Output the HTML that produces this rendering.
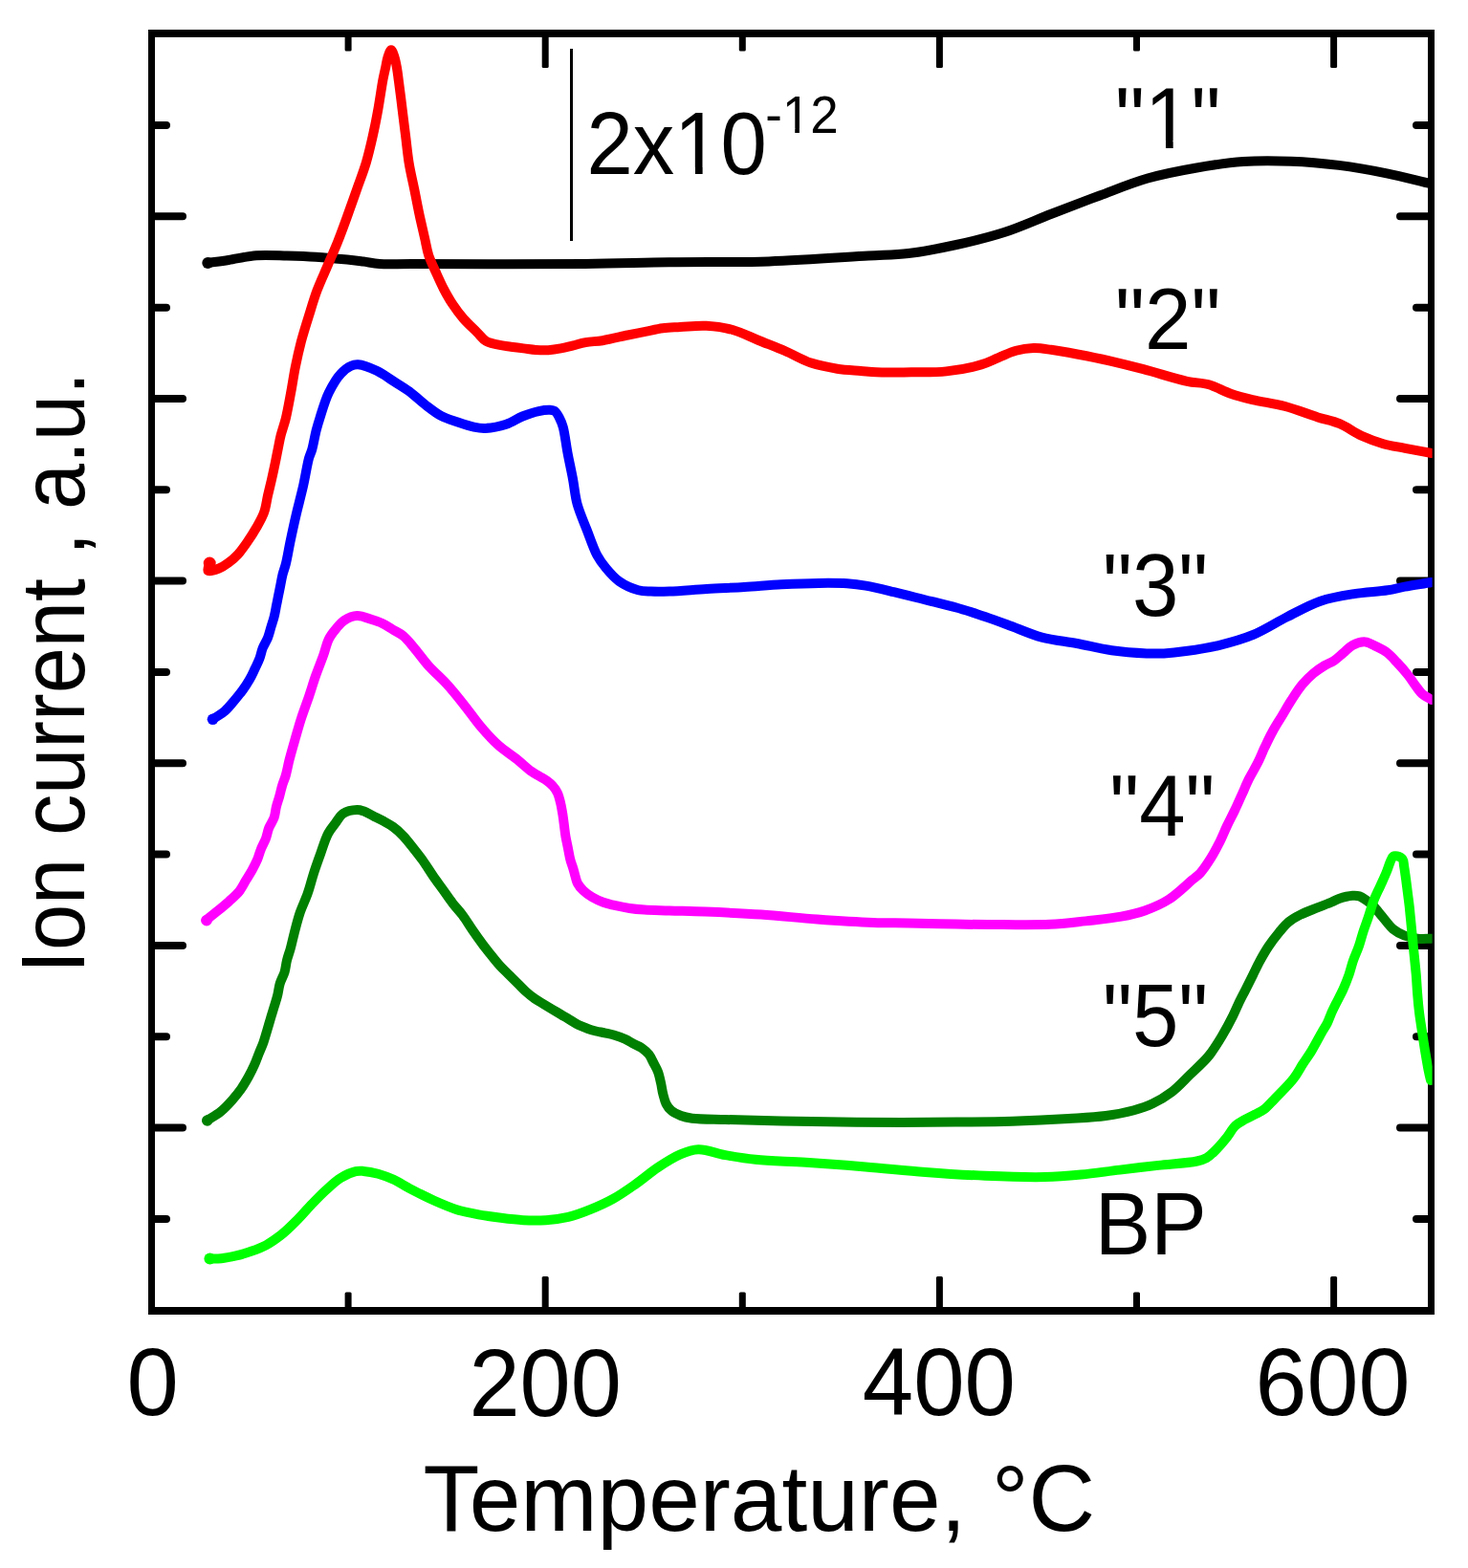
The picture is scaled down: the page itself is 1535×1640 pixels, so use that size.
<!DOCTYPE html>
<html><head><meta charset="utf-8"><title>Ion current vs Temperature</title>
<style>html,body{margin:0;padding:0;background:#fff;}svg{display:block;}text{font-family:"Liberation Sans",Arial,sans-serif;fill:#000;}</style></head>
<body><svg width="1535" height="1640" viewBox="0 0 1535 1640">
<rect x="0" y="0" width="1535" height="1640" fill="#fff"/>
<defs><clipPath id="pc"><rect x="150" y="30" width="1347.6" height="1350"/></clipPath></defs>
<g fill="#000">
<rect x="155" y="31" width="7" height="1344"/>
<rect x="155" y="31" width="1345" height="8"/>
<rect x="1493" y="31" width="7" height="1344"/>
<rect x="155" y="1367" width="1345" height="8"/>
</g>
<path d="M162 131.0H174.0 M1493 131.0H1481.0 M162 226.3H191.0 M1493 226.3H1464.0 M162 321.7H174.0 M1493 321.7H1481.0 M162 417.0H191.0 M1493 417.0H1464.0 M162 512.3H174.0 M1493 512.3H1481.0 M162 607.6H191.0 M1493 607.6H1464.0 M162 703.0H174.0 M1493 703.0H1481.0 M162 798.3H191.0 M1493 798.3H1464.0 M162 893.6H174.0 M1493 893.6H1481.0 M162 989.0H191.0 M1493 989.0H1464.0 M162 1084.3H174.0 M1493 1084.3H1481.0 M162 1179.6H191.0 M1493 1179.6H1464.0 M162 1275.0H174.0 M1493 1275.0H1481.0" stroke="#000" stroke-width="8" stroke-linecap="round" fill="none"/>
<g fill="#000"><rect x="360.6" y="1351.5" width="7" height="18" rx="1.5"/><rect x="360.6" y="37" width="7" height="16.5" rx="1.5"/><rect x="566.7" y="1335" width="7" height="34" rx="1.5"/><rect x="566.7" y="37" width="7" height="34" rx="1.5"/><rect x="772.8" y="1351.5" width="7" height="18" rx="1.5"/><rect x="772.8" y="37" width="7" height="16.5" rx="1.5"/><rect x="978.9" y="1335" width="7" height="34" rx="1.5"/><rect x="978.9" y="37" width="7" height="34" rx="1.5"/><rect x="1185.0" y="1351.5" width="7" height="18" rx="1.5"/><rect x="1185.0" y="37" width="7" height="16.5" rx="1.5"/><rect x="1391.1" y="1335" width="7" height="34" rx="1.5"/><rect x="1391.1" y="37" width="7" height="34" rx="1.5"/></g>
<rect x="596" y="51" width="3" height="201" fill="#000"/>
<g fill="none" stroke-width="10.0" stroke-linecap="round" stroke-linejoin="round" clip-path="url(#pc)">
<path d="M217.0 275.0 C224.3 274.0 231.2 273.2 239.0 272.0 C248.0 270.6 258.1 268.0 268.0 267.2 C278.4 266.4 289.5 267.2 300.0 267.5 C310.2 267.8 319.8 268.1 330.0 268.7 C340.7 269.4 353.8 270.6 363.0 271.5 C369.6 272.2 374.3 272.8 380.0 273.5 C385.7 274.3 390.4 275.5 397.0 276.0 C406.2 276.7 414.6 276.0 430.0 276.0 C466.2 276.0 562.2 276.5 612.0 276.0 C646.6 275.7 669.4 274.7 700.0 274.3 C733.2 273.8 769.3 274.5 804.0 273.4 C838.7 272.3 881.1 269.1 908.0 267.5 C925.1 266.5 935.4 266.7 950.0 265.0 C966.0 263.1 983.4 259.6 1000.0 256.0 C1016.7 252.3 1033.5 248.3 1050.0 243.0 C1066.8 237.6 1083.3 229.9 1100.0 223.5 C1116.7 217.1 1133.3 210.7 1150.0 204.5 C1166.6 198.3 1183.2 191.3 1200.0 186.5 C1216.5 181.8 1233.3 178.6 1250.0 175.7 C1266.6 172.8 1283.3 170.2 1300.0 169.0 C1316.6 167.8 1333.3 168.1 1350.0 168.7 C1366.7 169.3 1383.4 170.8 1400.0 172.9 C1416.7 175.0 1433.6 178.0 1450.0 181.3 C1466.0 184.5 1481.3 188.8 1497.0 192.5" stroke="#000000"/>
<path d="M219.2 589.0 C218.6 591.7 216.4 595.9 217.5 597.0 C218.9 598.4 225.4 595.9 229.0 594.5 C232.6 593.1 235.8 590.9 239.0 588.5 C242.4 586.0 245.7 583.2 248.8 579.8 C252.2 576.1 255.4 571.5 258.5 567.0 C261.9 562.1 265.3 556.8 268.3 551.5 C271.2 546.4 274.2 541.4 276.1 535.9 C278.1 530.3 278.7 524.1 280.0 518.3 C281.3 512.7 282.7 507.3 284.0 501.7 C285.3 495.9 286.6 489.6 287.8 484.0 C288.9 478.9 289.7 474.3 290.7 469.5 C291.7 464.7 292.4 460.0 293.7 455.0 C295.1 449.5 297.2 444.1 298.8 437.7 C300.7 429.8 302.4 419.9 304.1 410.9 C305.8 402.0 307.0 392.9 308.8 384.0 C310.6 375.1 312.6 366.2 314.9 357.3 C317.3 348.3 320.1 339.4 322.9 330.5 C325.7 321.5 328.3 312.5 331.6 303.6 C335.0 294.6 339.3 285.6 343.0 276.8 C346.6 268.4 350.2 260.4 353.5 252.0 C356.9 243.5 359.9 235.1 363.1 226.3 C366.4 217.2 369.7 207.6 373.0 198.3 C376.3 188.9 380.0 179.6 382.8 170.2 C385.6 160.9 387.7 151.6 389.8 142.2 C391.9 132.9 393.7 123.6 395.4 114.1 C397.2 104.3 398.8 92.1 400.3 84.0 C401.3 78.4 402.4 74.3 403.3 70.0 C404.1 66.2 404.5 62.6 405.6 59.5 C406.5 56.8 407.9 52.3 409.0 52.3 C410.1 52.3 411.5 56.8 412.4 59.5 C413.5 62.6 414.1 66.2 414.8 70.0 C415.6 74.3 416.1 78.4 416.8 84.0 C417.9 92.1 419.4 104.2 420.6 114.1 C421.8 123.6 422.9 132.8 424.1 142.2 C425.3 151.5 426.1 160.9 427.6 170.2 C429.1 179.6 431.4 188.9 433.3 198.3 C435.2 207.6 437.0 217.4 438.9 226.3 C440.7 234.5 442.6 242.8 444.3 250.0 C445.7 256.1 446.4 261.4 448.2 267.0 C450.1 272.7 452.8 278.2 455.4 283.9 C458.1 289.9 460.9 296.3 463.9 302.1 C466.8 307.6 469.6 312.7 473.0 317.8 C476.5 323.1 480.4 328.5 484.7 333.4 C489.1 338.4 494.8 343.5 499.0 347.7 C502.4 351.1 504.6 354.6 508.2 356.8 C511.9 359.0 516.8 359.7 521.2 360.7 C525.5 361.7 529.9 362.1 534.2 362.7 C538.6 363.3 542.9 363.8 547.3 364.4 C551.6 364.9 556.0 365.7 560.3 366.0 C564.6 366.3 569.0 366.5 573.3 366.2 C577.7 365.9 582.1 365.2 586.4 364.4 C590.8 363.6 595.1 362.4 599.4 361.4 C603.7 360.3 607.7 358.9 612.4 358.1 C617.8 357.1 623.6 357.2 630.0 356.2 C638.0 354.9 648.5 352.2 656.5 350.5 C663.1 349.1 668.6 348.0 674.7 346.8 C680.8 345.6 686.9 344.0 693.0 343.2 C699.0 342.4 704.5 342.4 711.2 342.0 C719.4 341.6 729.5 340.3 738.6 340.8 C747.8 341.3 757.0 342.5 766.0 345.0 C775.3 347.5 784.2 352.3 793.3 356.0 C802.4 359.7 811.6 363.1 820.7 367.0 C829.9 370.9 838.7 376.5 848.0 379.6 C857.0 382.6 866.5 384.3 875.4 385.7 C883.8 387.0 892.6 387.3 900.0 387.9 C906.0 388.4 909.9 389.0 916.5 389.3 C926.3 389.7 940.8 389.4 953.0 389.3 C965.2 389.2 977.4 389.7 989.5 388.4 C1001.7 387.1 1016.1 384.3 1026.0 381.4 C1033.2 379.3 1038.0 376.5 1044.0 374.1 C1050.1 371.7 1056.2 368.5 1062.4 366.8 C1068.4 365.2 1074.6 364.3 1080.7 364.1 C1086.8 363.9 1092.3 364.9 1099.0 365.8 C1107.2 366.9 1116.8 368.7 1126.4 370.5 C1137.0 372.5 1148.7 374.8 1160.0 377.4 C1171.7 380.1 1183.0 382.9 1195.6 386.2 C1209.9 389.9 1228.5 396.1 1241.2 398.8 C1250.0 400.7 1256.5 400.1 1264.0 402.2 C1271.7 404.4 1279.1 409.1 1286.8 411.8 C1294.3 414.4 1301.2 416.1 1309.6 418.1 C1319.8 420.5 1332.5 422.0 1343.8 425.0 C1355.3 428.1 1367.7 433.2 1378.0 436.4 C1386.3 439.0 1393.4 440.1 1400.8 443.2 C1408.6 446.5 1415.9 452.3 1423.6 455.8 C1431.1 459.2 1438.7 462.0 1446.4 464.2 C1453.9 466.3 1461.2 467.2 1469.2 468.8 C1478.0 470.5 1487.7 472.3 1497.0 474.0" stroke="#ff0000"/>
<path d="M223.0 752.0 C227.0 749.2 231.4 746.9 235.1 743.7 C238.8 740.5 241.8 736.4 245.0 732.7 C248.1 729.1 251.1 725.4 253.8 721.7 C256.4 718.1 258.8 714.5 260.9 710.8 C263.0 707.2 264.6 703.5 266.4 699.8 C268.1 696.1 270.0 692.5 271.4 688.8 C272.8 685.2 273.3 681.4 274.7 677.8 C276.2 674.1 278.6 670.5 280.1 666.8 C281.5 663.2 282.3 659.5 283.4 655.9 C284.5 652.2 285.8 648.6 286.7 644.9 C287.6 641.3 288.2 637.6 288.9 633.9 C289.6 630.2 290.4 626.6 291.1 622.9 C291.8 619.3 292.6 615.6 293.3 612.0 C294.0 608.3 294.6 604.6 295.5 601.0 C296.4 597.3 297.7 594.4 298.8 590.0 C300.4 583.8 301.7 575.1 303.4 567.0 C305.3 557.8 307.5 547.5 309.8 537.8 C312.1 528.0 314.8 518.3 317.0 508.5 C319.2 498.8 321.1 486.3 323.0 479.3 C324.1 475.3 325.2 473.7 326.3 470.0 C327.8 464.6 329.2 455.8 330.7 450.0 C331.9 445.4 332.7 442.6 334.3 437.7 C336.6 430.5 339.8 419.0 343.7 410.9 C347.3 403.5 351.9 395.7 356.4 390.8 C359.8 387.1 363.6 384.2 367.0 382.7 C369.5 381.5 371.4 381.0 374.4 381.2 C379.4 381.5 387.8 384.9 393.9 387.8 C399.9 390.6 405.2 394.7 410.8 398.3 C416.5 401.9 422.3 405.2 427.8 409.3 C433.6 413.6 439.0 419.0 444.7 423.4 C450.2 427.6 455.8 432.1 461.6 435.2 C467.1 438.1 472.9 439.6 478.6 441.5 C484.2 443.4 490.3 445.5 495.5 446.6 C499.8 447.5 502.8 448.1 507.4 447.9 C513.6 447.7 522.7 445.9 529.4 443.7 C535.6 441.7 540.6 437.8 546.3 435.5 C551.9 433.3 558.1 431.2 563.3 430.1 C567.5 429.2 572.0 428.6 575.1 428.8 C577.1 428.9 578.6 429.0 580.1 430.0 C582.1 431.4 583.9 435.0 585.3 437.8 C586.8 440.6 587.7 442.9 588.8 446.8 C590.6 453.3 591.8 464.7 593.5 473.6 C595.2 482.6 597.2 491.5 598.9 500.5 C600.6 509.4 601.2 518.5 603.6 527.3 C606.1 536.3 610.1 545.2 613.6 554.1 C617.1 563.1 620.5 573.7 624.4 580.9 C627.4 586.4 630.2 590.1 633.8 594.4 C637.7 599.1 641.9 604.1 647.2 607.8 C652.9 611.8 661.1 615.5 667.3 617.2 C672.1 618.5 675.8 618.3 680.7 618.5 C686.5 618.8 692.5 618.7 700.0 618.5 C710.7 618.2 726.0 616.7 739.0 616.0 C752.0 615.2 765.1 614.8 778.2 614.0 C791.2 613.2 804.3 612.0 817.3 611.3 C830.3 610.6 844.2 610.0 856.3 609.9 C866.8 609.8 876.9 609.7 885.7 610.3 C892.9 610.8 898.1 611.4 905.2 612.6 C914.0 614.1 924.0 616.6 934.5 619.1 C946.6 622.0 961.8 626.0 973.6 628.9 C983.3 631.3 992.3 633.4 1000.0 635.5 C1006.2 637.2 1009.9 638.4 1016.5 640.5 C1026.3 643.7 1040.9 648.9 1053.0 653.2 C1065.2 657.6 1077.1 663.3 1089.4 666.6 C1101.4 669.8 1113.8 670.7 1126.0 673.0 C1138.2 675.3 1150.2 678.6 1162.4 680.3 C1174.5 682.0 1188.8 683.0 1198.9 683.4 C1206.0 683.7 1210.7 683.7 1217.1 683.4 C1224.3 683.0 1231.6 682.2 1240.0 681.0 C1250.5 679.5 1263.6 677.6 1275.2 674.8 C1287.0 671.9 1298.9 668.7 1310.4 663.9 C1322.3 659.0 1333.7 651.3 1345.5 645.4 C1357.2 639.6 1368.7 632.8 1380.7 628.7 C1392.2 624.8 1404.1 623.0 1415.9 621.1 C1427.6 619.2 1441.4 618.8 1451.1 617.3 C1458.0 616.2 1462.1 614.9 1468.7 613.7 C1477.0 612.2 1487.6 610.6 1497.0 609.0" stroke="#0000ff"/>
<path d="M215.4 962.5 C219.1 959.6 222.6 956.8 226.4 953.7 C230.6 950.3 235.4 946.4 239.5 942.7 C243.4 939.1 247.5 935.6 250.5 931.8 C253.2 928.3 254.9 924.5 257.1 920.8 C259.3 917.1 261.7 913.5 263.7 909.8 C265.7 906.2 267.6 902.5 269.2 898.8 C270.7 895.2 271.5 891.4 273.0 887.8 C274.5 884.1 276.6 880.6 278.0 876.9 C279.3 873.3 279.8 869.5 281.2 865.9 C282.7 862.2 285.4 858.7 286.7 854.9 C287.9 851.3 288.0 847.5 288.9 843.9 C289.8 840.2 291.2 836.6 292.2 832.9 C293.2 829.3 293.9 825.6 295.0 822.0 C296.1 818.3 297.6 815.1 298.8 811.0 C300.2 806.1 301.1 800.4 302.6 794.6 C304.3 787.8 306.6 780.0 308.7 772.7 C310.8 765.4 312.8 758.0 315.2 750.7 C317.6 743.4 320.4 736.1 322.9 728.8 C325.4 721.5 327.5 714.1 330.1 706.8 C332.7 699.5 335.9 691.7 338.3 684.9 C340.4 679.0 341.4 673.2 343.8 668.4 C345.9 664.2 348.7 660.7 351.5 657.4 C354.2 654.2 356.7 650.9 360.2 648.7 C363.9 646.3 368.8 644.2 373.4 644.0 C378.3 643.8 384.1 646.6 388.8 648.1 C392.8 649.3 396.1 650.3 399.7 652.0 C403.4 653.8 407.0 656.3 410.7 658.5 C414.4 660.7 418.2 662.3 421.7 665.1 C425.6 668.3 428.8 672.6 432.7 677.2 C437.5 682.8 442.7 690.4 448.3 696.6 C454.0 702.9 460.6 708.4 466.6 714.9 C472.9 721.7 478.9 729.3 484.9 736.8 C491.1 744.5 496.9 753.2 503.2 760.6 C509.1 767.5 515.2 774.2 521.5 779.8 C527.4 785.0 533.9 788.9 539.7 793.5 C545.3 797.9 551.3 803.7 555.8 806.9 C558.8 809.1 561.1 810.1 563.8 811.7 C566.4 813.3 569.3 814.7 571.7 816.5 C574.0 818.2 576.2 819.9 578.0 822.0 C579.9 824.1 581.5 826.4 582.8 829.1 C584.3 832.1 585.1 835.8 586.0 839.4 C587.0 843.2 587.6 847.3 588.3 851.3 C588.9 855.3 589.4 859.2 589.9 863.2 C590.4 867.2 590.8 871.1 591.5 875.1 C592.2 879.1 593.1 883.0 593.9 887.0 C594.7 891.0 595.3 895.1 596.3 898.9 C597.2 902.4 598.6 905.9 599.5 909.0 C600.3 911.7 600.8 914.0 601.5 916.5 C602.3 919.0 602.7 921.6 604.0 924.0 C605.4 926.6 607.4 929.0 609.7 931.3 C612.3 933.8 615.7 936.3 619.1 938.3 C622.7 940.4 626.8 942.4 630.8 943.8 C634.6 945.2 638.3 945.9 642.5 946.9 C647.3 948.0 653.0 949.2 658.2 950.0 C663.4 950.8 667.9 951.2 673.8 951.6 C681.4 952.1 690.5 952.1 700.0 952.4 C711.3 952.8 723.5 953.0 737.3 953.6 C754.6 954.3 776.4 955.2 795.9 956.5 C815.4 957.8 835.0 960.2 854.5 961.6 C874.0 963.0 895.9 964.4 913.1 965.0 C926.7 965.5 936.4 965.2 949.5 965.4 C964.7 965.7 982.5 966.3 999.0 966.6 C1015.5 966.9 1032.1 967.1 1048.6 967.1 C1065.1 967.1 1082.7 967.5 1098.0 966.8 C1111.3 966.2 1122.8 964.7 1135.2 963.4 C1147.6 962.0 1161.2 960.8 1172.3 958.7 C1181.4 957.0 1188.9 955.4 1197.0 952.5 C1205.4 949.5 1213.9 946.0 1221.9 940.9 C1230.5 935.4 1240.6 925.4 1246.6 920.3 C1250.1 917.4 1252.1 916.3 1254.9 913.3 C1258.7 909.2 1263.0 902.5 1266.5 896.9 C1269.9 891.5 1272.7 885.9 1275.5 880.4 C1278.2 875.0 1280.3 869.5 1282.9 864.0 C1285.5 858.5 1288.5 853.0 1291.1 847.5 C1293.7 842.0 1296.1 836.5 1298.6 831.0 C1301.1 825.5 1303.3 820.0 1306.0 814.6 C1308.8 809.1 1312.2 803.6 1315.0 798.1 C1317.7 792.7 1319.8 787.2 1322.4 781.7 C1325.0 776.2 1327.6 770.6 1330.6 765.2 C1333.6 759.6 1337.2 754.2 1340.5 748.7 C1343.8 743.2 1346.9 737.7 1350.4 732.3 C1354.0 726.7 1357.8 720.6 1361.9 715.8 C1365.6 711.4 1369.4 707.7 1373.4 704.3 C1377.1 701.2 1381.2 698.4 1385.0 696.1 C1388.3 694.1 1391.6 693.2 1394.8 691.1 C1398.2 688.9 1401.4 685.6 1404.7 682.9 C1408.0 680.2 1410.8 676.6 1414.6 674.7 C1418.5 672.7 1423.5 671.1 1427.7 671.4 C1431.7 671.7 1435.5 674.4 1439.3 676.3 C1443.2 678.2 1447.3 680.2 1450.8 682.9 C1454.4 685.7 1457.3 689.2 1460.7 692.8 C1464.5 696.8 1468.8 701.7 1472.2 706.0 C1475.3 709.9 1477.8 714.0 1480.4 717.5 C1482.7 720.5 1484.3 723.3 1487.0 725.7 C1489.8 728.2 1493.7 729.9 1497.0 732.0" stroke="#ff00ff"/>
<path d="M216.5 1172.0 C221.2 1169.0 226.2 1166.4 230.5 1162.9 C234.9 1159.3 239.0 1154.9 242.7 1150.7 C246.2 1146.7 249.5 1142.7 252.4 1138.5 C255.2 1134.5 257.5 1130.4 259.8 1126.3 C262.0 1122.3 264.1 1118.2 265.9 1114.1 C267.7 1110.1 269.1 1106.0 270.7 1102.0 C272.3 1097.9 274.2 1093.9 275.6 1089.8 C277.0 1085.8 278.1 1081.7 279.3 1077.6 C280.5 1073.5 281.7 1069.5 282.9 1065.4 C284.1 1061.3 285.4 1057.3 286.6 1053.2 C287.8 1049.1 289.2 1045.1 290.2 1041.0 C291.2 1037.0 291.5 1032.8 292.7 1028.8 C293.9 1024.7 296.4 1020.7 297.6 1016.6 C298.8 1012.6 299.0 1008.4 300.0 1004.4 C301.0 1000.3 302.5 996.6 303.7 992.2 C305.1 987.2 306.2 981.7 307.7 975.9 C309.4 969.4 311.2 962.0 313.5 955.1 C315.9 948.1 319.4 941.2 321.8 934.2 C324.2 927.3 325.8 920.3 328.0 913.4 C330.3 906.4 332.8 899.4 335.3 892.5 C337.8 885.5 340.2 877.3 343.2 871.7 C345.4 867.5 347.9 864.7 350.5 861.3 C353.1 857.8 355.2 853.2 358.8 850.8 C362.7 848.3 369.5 847.1 373.4 847.0 C376.0 846.9 377.6 847.5 380.0 848.3 C383.1 849.4 386.9 851.8 390.4 853.5 C393.8 855.2 397.3 856.8 400.7 858.7 C404.2 860.6 407.7 862.4 411.1 864.9 C414.7 867.5 418.2 870.7 421.5 874.2 C425.1 877.9 428.4 882.3 431.8 886.6 C435.3 891.0 438.8 895.4 442.2 900.1 C445.7 905.0 449.0 910.5 452.5 915.6 C455.9 920.6 459.4 925.3 462.9 930.2 C466.4 935.0 469.8 940.1 473.3 944.7 C476.7 949.1 480.3 952.6 483.6 957.1 C487.2 961.9 490.5 967.5 494.0 972.6 C497.4 977.6 501.0 982.6 504.4 987.2 C507.5 991.4 510.6 995.2 513.7 999.1 C516.7 1002.9 519.7 1006.7 522.8 1010.1 C525.8 1013.4 528.9 1016.2 531.9 1019.2 C534.9 1022.2 538.0 1025.3 541.0 1028.3 C544.1 1031.3 547.1 1034.6 550.2 1037.4 C553.2 1040.1 556.2 1042.5 559.3 1044.7 C562.3 1046.8 565.4 1048.4 568.4 1050.2 C571.4 1052.0 574.5 1053.9 577.5 1055.7 C580.5 1057.5 583.6 1059.3 586.6 1061.1 C589.7 1062.9 592.7 1064.8 595.8 1066.6 C598.8 1068.4 601.8 1070.6 604.9 1072.1 C607.9 1073.6 610.9 1074.6 614.0 1075.7 C617.0 1076.8 620.0 1077.7 623.1 1078.5 C626.1 1079.3 629.1 1079.6 632.2 1080.3 C635.3 1081.0 638.4 1081.5 641.7 1082.5 C645.5 1083.6 649.9 1085.1 653.5 1086.8 C656.8 1088.3 659.8 1090.3 662.8 1091.9 C665.5 1093.3 668.2 1094.1 670.7 1095.8 C673.4 1097.7 676.4 1100.1 678.5 1102.8 C680.5 1105.4 681.7 1108.5 683.2 1111.4 C684.8 1114.4 686.6 1117.4 687.9 1120.8 C689.3 1124.4 690.1 1128.6 691.0 1132.5 C691.9 1136.4 692.3 1140.5 693.3 1144.3 C694.2 1147.8 695.0 1151.4 696.5 1154.4 C697.9 1157.1 699.5 1159.5 701.9 1161.5 C704.6 1163.8 708.5 1165.6 712.1 1167.0 C715.8 1168.4 718.8 1169.0 723.8 1169.7 C732.3 1170.8 745.5 1170.6 758.6 1171.0 C775.6 1171.5 796.3 1172.2 817.3 1172.6 C841.5 1173.1 867.5 1173.6 895.4 1173.8 C927.7 1174.0 970.1 1173.9 1000.0 1173.6 C1022.3 1173.4 1039.1 1173.3 1058.6 1172.7 C1078.2 1172.1 1099.7 1171.1 1117.3 1170.0 C1131.6 1169.1 1144.3 1168.6 1156.3 1167.0 C1166.8 1165.6 1177.0 1163.6 1185.7 1161.2 C1192.9 1159.2 1198.8 1157.3 1205.2 1154.3 C1211.9 1151.2 1218.4 1147.4 1224.7 1142.6 C1231.5 1137.4 1237.8 1130.3 1244.3 1124.0 C1250.9 1117.6 1258.2 1111.4 1263.8 1104.5 C1269.1 1098.0 1273.3 1091.0 1277.5 1084.0 C1281.7 1077.0 1286.1 1068.8 1289.2 1062.5 C1291.6 1057.8 1292.9 1054.2 1295.0 1049.8 C1297.3 1045.0 1300.0 1039.9 1302.5 1034.9 C1305.0 1029.9 1307.5 1024.9 1310.0 1019.9 C1312.5 1014.9 1314.8 1009.9 1317.5 1004.9 C1320.3 999.8 1323.1 994.8 1326.4 989.9 C1329.8 984.8 1334.0 979.4 1337.7 974.9 C1341.0 971.0 1343.8 967.4 1347.4 964.4 C1351.0 961.4 1354.9 959.2 1359.4 956.9 C1364.7 954.2 1371.7 951.7 1377.4 949.4 C1382.6 947.3 1388.3 945.3 1392.4 943.5 C1395.4 942.2 1397.0 941.0 1400.0 940.0 C1404.0 938.7 1410.3 937.1 1414.3 936.8 C1417.1 936.6 1419.2 936.7 1421.5 937.4 C1424.0 938.2 1426.4 940.1 1428.7 941.7 C1431.1 943.4 1433.4 945.1 1435.8 947.4 C1438.8 950.3 1441.6 954.2 1444.8 958.0 C1448.5 962.3 1452.5 968.3 1456.8 971.9 C1460.6 975.0 1464.6 977.1 1468.8 978.7 C1473.1 980.3 1477.7 981.2 1482.3 981.7 C1487.1 982.2 1492.1 981.7 1497.0 981.7" stroke="#008000"/>
<path d="M219.5 1316.5 C223.4 1316.4 227.1 1316.6 231.3 1316.2 C236.2 1315.7 241.7 1314.6 246.9 1313.4 C252.1 1312.2 257.3 1310.6 262.5 1308.8 C267.8 1306.9 273.1 1305.0 278.2 1302.3 C283.6 1299.4 288.7 1295.8 293.8 1291.8 C299.2 1287.6 304.3 1282.5 309.4 1277.4 C314.7 1272.1 319.8 1266.0 325.1 1260.5 C330.3 1255.1 335.4 1249.7 340.7 1244.9 C345.8 1240.3 350.8 1235.3 356.3 1232.0 C361.3 1228.9 367.6 1226.2 372.0 1225.2 C375.0 1224.5 376.8 1224.7 379.8 1224.9 C384.1 1225.2 390.3 1226.3 395.4 1227.7 C400.7 1229.2 406.0 1231.2 411.1 1233.6 C416.4 1236.0 421.7 1239.5 426.7 1242.2 C431.3 1244.6 435.5 1246.8 440.0 1249.0 C444.5 1251.2 448.3 1253.2 453.5 1255.5 C460.2 1258.5 469.0 1262.4 476.9 1264.9 C484.6 1267.3 492.5 1268.8 500.4 1270.3 C508.2 1271.8 516.0 1272.8 523.8 1273.8 C531.6 1274.8 539.5 1275.8 547.3 1276.2 C555.1 1276.6 562.9 1276.7 570.7 1276.2 C578.5 1275.7 586.5 1274.7 594.2 1272.9 C602.1 1271.0 609.9 1268.0 617.6 1264.9 C625.5 1261.7 633.4 1258.2 641.1 1253.9 C649.1 1249.5 656.8 1244.0 664.5 1238.6 C672.4 1233.1 680.0 1226.3 688.0 1221.0 C695.7 1215.9 703.8 1210.6 711.4 1207.4 C717.8 1204.7 723.3 1202.5 730.2 1202.3 C738.6 1202.0 748.6 1206.4 758.3 1208.1 C768.5 1209.9 778.1 1211.6 790.0 1212.8 C805.3 1214.4 824.2 1214.6 842.5 1215.8 C862.5 1217.1 884.2 1218.7 905.1 1220.4 C925.9 1222.1 946.7 1224.3 967.6 1225.9 C988.4 1227.5 1009.3 1228.9 1030.2 1229.8 C1051.0 1230.7 1074.5 1231.5 1092.7 1231.1 C1106.9 1230.8 1117.6 1229.8 1130.4 1228.6 C1143.7 1227.3 1157.3 1225.2 1170.8 1223.6 C1184.3 1222.0 1197.7 1220.4 1211.2 1218.9 C1224.7 1217.4 1242.7 1216.5 1251.6 1214.5 C1256.1 1213.5 1258.4 1212.9 1261.6 1211.1 C1265.2 1209.1 1268.4 1205.6 1271.7 1202.4 C1275.2 1198.9 1278.5 1195.0 1281.8 1190.9 C1285.3 1186.6 1288.3 1180.7 1292.0 1177.2 C1295.1 1174.3 1298.6 1172.7 1302.0 1170.7 C1305.3 1168.8 1308.8 1167.4 1312.1 1165.6 C1315.5 1163.8 1319.0 1162.4 1322.2 1160.0 C1325.8 1157.3 1328.4 1153.9 1332.3 1149.9 C1337.9 1144.1 1347.3 1135.1 1352.5 1128.3 C1356.6 1123.0 1358.8 1118.3 1362.0 1113.3 C1365.2 1108.4 1368.5 1103.9 1371.7 1098.6 C1375.3 1092.6 1379.5 1084.4 1382.5 1079.1 C1384.6 1075.5 1386.3 1073.2 1387.9 1070.0 C1389.6 1066.7 1390.7 1062.9 1392.2 1059.5 C1393.7 1056.2 1395.1 1053.4 1396.9 1049.8 C1399.1 1045.4 1402.1 1039.9 1404.4 1034.9 C1406.6 1030.0 1408.6 1024.9 1410.4 1019.9 C1412.1 1014.9 1413.2 1009.9 1414.9 1004.9 C1416.6 999.9 1419.1 994.9 1420.8 989.9 C1422.5 984.9 1423.7 979.9 1425.3 974.9 C1426.9 969.9 1428.8 965.2 1430.6 959.9 C1432.6 954.1 1434.3 947.4 1436.5 941.7 C1438.5 936.6 1440.8 932.1 1443.0 927.3 C1445.1 922.5 1447.6 917.5 1449.4 913.0 C1451.0 909.2 1452.1 905.3 1453.4 902.2 C1454.5 899.8 1455.1 896.8 1456.6 895.8 C1457.8 895.0 1459.4 895.1 1460.9 895.4 C1462.7 895.8 1465.4 897.0 1466.6 898.7 C1467.9 900.4 1467.6 903.0 1468.1 905.8 C1468.8 909.8 1469.5 915.4 1470.2 920.2 C1470.8 925.0 1471.4 929.7 1472.0 934.5 C1472.6 939.3 1473.3 944.3 1473.8 948.8 C1474.2 952.8 1474.4 955.4 1474.9 960.0 C1475.6 967.6 1476.8 979.9 1477.8 989.9 C1478.8 999.9 1480.0 1010.9 1480.8 1019.9 C1481.4 1027.3 1481.6 1033.4 1482.2 1040.0 C1482.7 1046.6 1483.3 1053.0 1484.1 1059.5 C1484.9 1066.0 1486.0 1072.6 1487.0 1079.1 C1488.0 1085.6 1488.9 1092.1 1490.0 1098.6 C1491.1 1105.1 1492.3 1112.5 1493.4 1118.2 C1494.3 1122.6 1495.1 1126.1 1496.0 1130.0" stroke="#00ff00"/>
<circle cx="217.3" cy="275.0" r="6.0" fill="#000000" stroke="none"/>
<circle cx="219.2" cy="589.0" r="6.5" fill="#ff0000" stroke="none"/>
<circle cx="222.5" cy="752.3" r="5.8" fill="#0000ff" stroke="none"/>
<circle cx="216.0" cy="962.7" r="5.8" fill="#ff00ff" stroke="none"/>
<circle cx="216.8" cy="1172.0" r="5.8" fill="#008000" stroke="none"/>
<circle cx="219.5" cy="1316.5" r="6.1" fill="#00ff00" stroke="none"/>
</g>
<text transform="matrix(0.9528 0 0 1.0020 51.31 -0.51)" x="1170" y="155" font-size="91.5">"1"</text>
<text transform="matrix(0.9528 0 0 0.9986 51.31 0.42)" x="1170" y="365" font-size="91.5">"2"</text>
<text transform="matrix(0.9509 0 0 1.0088 52.86 -5.20)" x="1157" y="644" font-size="91.5">"3"</text>
<text transform="matrix(0.9491 0 0 1.0019 55.58 -1.86)" x="1164" y="874" font-size="91.5">"4"</text>
<text transform="matrix(0.9509 0 0 1.0150 52.86 -15.97)" x="1157" y="1094" font-size="91.5">"5"</text>
<text transform="matrix(0.9577 0 0 1.0076 41.58 -10.19)" x="1152" y="1312" font-size="91.5">BP</text>
<text transform="matrix(0.9492 0 0 1.0165 32.48 -1.95)" x="612" y="181" font-size="91.5">2x10</text>
<text transform="matrix(0.9700 0 0 1.0022 23.34 -0.30)" x="801" y="139" font-size="54.5">-12</text>
<text transform="matrix(0.9912 0 0 1.0084 1.63 -11.97)" x="132" y="1480" font-size="98.5">0</text>
<text transform="matrix(0.9697 0 0 1.0125 15.36 -17.75)" x="490" y="1480" font-size="98.5">200</text>
<text transform="matrix(0.9741 0 0 1.0094 25.19 -13.45)" x="900" y="1480" font-size="98.5">400</text>
<text transform="matrix(0.9859 0 0 1.0084 18.92 -11.98)" x="1312" y="1480" font-size="98.5">600</text>
<text transform="matrix(0.9783 0 0 0.9964 12.14 4.70)" x="440" y="1602" font-size="98.5">Temperature, °C</text>
<g transform="matrix(1.0271 0 0 0.9420 -1.27 59.05)"><text transform="translate(87 1018) rotate(-90)" font-size="91.7">Ion current , a.u.</text></g>
<rect x="1202.000" y="147" width="16.968" height="9" fill="#fff"/>
<rect x="1226.673" y="147" width="16.327" height="9" fill="#fff"/>
<rect x="710.000" y="175" width="16.952" height="9" fill="#fff"/>
<rect x="734.628" y="175" width="16.372" height="9" fill="#fff"/>
<rect x="820.000" y="134" width="11.234" height="6" fill="#fff"/>
<rect x="835.906" y="134" width="10.094" height="6" fill="#fff"/>
</svg></body></html>
